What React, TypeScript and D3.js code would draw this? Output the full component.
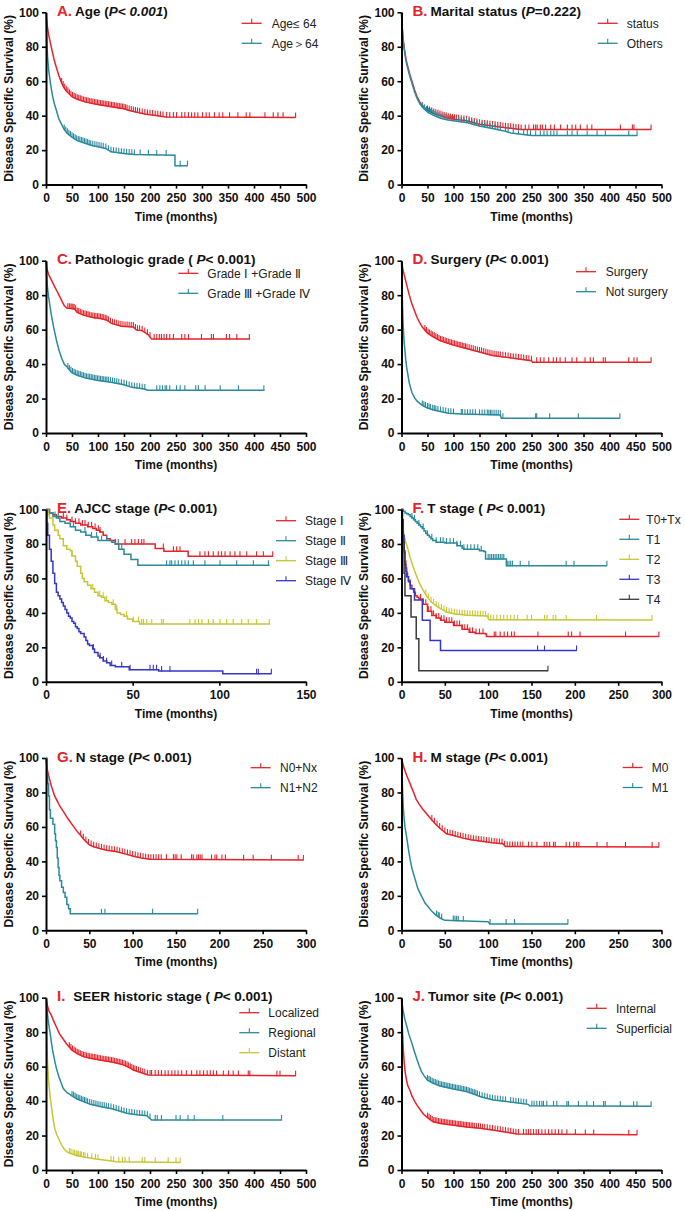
import React, { useRef, useEffect } from 'react';
import * as d3 from 'd3';

type Pt = [number, number];

// ---------- A. Age ----------
const ageLowPts: Pt[] = [[0,100],[1,96],[3,91],[5,87],[8,83],[10,80],[13,76],[16,72],[20,68],[25,63],[30,59],[35,56],[40,54],[50,51],[60,49.5],[75,48],[90,47],[100,46.5],[120,45.5],[140,44.5],[150,44],[160,43],[175,42],[190,41],[200,40.5],[215,40],[230,39.2],[480,39]];
const ageLowCens = [30,33,36,39,42,45,48,51,54,57,60,63,66,69,72,75,78,81,84,87,90,93,96,99,102,105,108,111,114,117,120,123,126,129,132,135,138,141,144,147,150,153,156,160,164,168,172,176,180,185,190,195,200,205,210,215,220,225,232,238,245,251,261,267,274,280,286,292,301,308,314,324,333,340,353,369,385,392,421,437,446,456,480];
const ageHighPts: Pt[] = [[0,100],[1,88],[2,80],[3,74],[5,67],[8,60],[10,56],[13,51],[16,47],[20,43],[25,38],[30,35],[35,32],[40,30],[50,27.5],[60,25.5],[75,24],[90,22.5],[100,22],[115,21],[125,19],[140,18.5],[150,18],[170,17.5],[248,17],[248,11],[272,11]];
const ageHighCens = [35,38,41,44,47,50,53,56,59,62,65,68,71,74,77,80,83,86,90,94,98,102,106,110,115,120,125,130,135,140,145,150,155,160,165,170,181,197,213,231,258,272];

// ---------- B. Marital status ----------
const statusPts: Pt[] = [[0,100],[1,93],[3,85],[5,80],[8,74],[10,71],[15,65],[20,60],[25,55],[30,51],[35,48],[40,46],[50,43],[60,41.5],[75,40],[90,38.5],[100,38],[125,37],[150,35],[175,34],[200,33],[230,32],[480,32]];
const statusCens = [50,54,58,62,66,70,74,78,82,86,90,94,98,102,106,110,115,120,125,130,135,140,145,150,155,160,165,170,175,180,185,190,195,200,205,210,215,220,225,230,238,245,254,258,261,267,271,277,287,294,306,319,328,335,344,357,366,421,444,447,480];
const othersPts: Pt[] = [[0,100],[1,92],[3,84],[5,79],[8,73],[10,70],[15,64],[20,59],[25,54],[30,50],[35,47],[40,45],[50,42],[60,40.5],[75,38.5],[90,37.5],[100,37],[125,36],[150,34],[175,32.5],[200,31],[210,30],[250,28.5],[453,28.5]];
const othersCens = [40,44,48,52,56,60,64,68,72,76,80,84,88,92,96,100,105,110,115,120,125,130,135,140,145,150,155,160,165,170,175,180,185,190,200,205,215,225,235,242,248,258,267,274,280,287,293,299,319,328,338,357,376,392,437,453];

// ---------- C. Pathologic grade ----------
const gradeLowPts: Pt[] = [[0,100],[2,95],[5,92],[10,89],[15,86],[20,83],[25,80],[30,77],[35,74],[40,72.5],[55,72],[60,70],[72,68.4],[90,67],[104,66.5],[117,65.5],[126,63.6],[145,62],[168,61.5],[174,59.7],[184,59.5],[197,57],[203,54.5],[392,54.5]];
const gradeLowCens = [42,45,48,50,52,54,57,60,63,66,69,72,75,78,81,84,87,90,93,96,99,102,105,108,111,114,117,120,124,128,132,136,140,144,148,152,156,160,164,168,172,176,180,185,190,195,200,208,213,218,222,227,232,238,245,261,267,274,299,318,322,347,353,367,391];
const gradeHighPts: Pt[] = [[0,100],[1,92],[3,84],[5,79],[8,73],[10,69],[15,61],[20,54],[25,48],[30,43.5],[35,40],[40,38.5],[45,36.5],[50,35],[60,33.5],[75,32],[100,30.5],[125,29.5],[150,28],[165,26.5],[190,25.5],[195,24.8],[420,24.8]];
const gradeHighCens = [42,45,48,51,54,57,60,63,66,69,72,75,78,81,84,87,90,93,96,99,102,105,108,111,114,117,120,124,128,132,136,140,145,150,155,160,165,170,175,180,185,190,213,219,224,229,232,238,251,258,267,288,293,306,335,370,419];

// ---------- D. Surgery ----------
const surgeryPts: Pt[] = [[0,100],[2,96],[5,92],[10,86],[15,80],[20,75],[25,71],[30,67],[35,64],[40,61.5],[50,58],[60,56],[75,53.5],[100,51],[125,49],[150,47],[175,45],[200,44],[225,43],[250,42],[252,41],[480,41]];
const surgeryCens = [45,48,51,54,57,60,63,66,69,72,75,78,81,84,87,90,93,96,99,102,105,108,111,114,117,120,123,126,130,134,138,142,146,150,154,158,162,166,170,174,178,182,186,190,195,200,205,210,215,220,225,230,235,240,245,250,260,267,274,283,292,298,305,315,328,337,353,363,369,388,392,437,447,453,480];
const notSurgeryPts: Pt[] = [[0,100],[1,85],[2,74],[3,64],[5,53],[8,43],[10,38],[15,29],[20,23.5],[25,20.5],[30,18.5],[40,16],[50,14.5],[60,13.5],[75,12.5],[90,11.5],[115,11],[190,10.5],[192,8.5],[420,8.5]];
const notSurgeryCens = [40,43,46,50,53,56,60,63,66,70,75,80,85,90,95,100,115,117,122,127,132,137,142,150,155,160,165,168,171,174,178,182,186,190,195,258,260,285,340,420];

// ---------- E. AJCC stage ----------
const stage1Pts: Pt[] = [[0,100],[2,98],[4,97],[6,96],[9,95],[12,94],[14,93],[17,92],[20,91],[24,90],[27,89],[29,88],[31,87],[33,85],[35,83],[37,82],[40,80],[63,77.3],[68,75.7],[82,72.8],[131,72.8]];
const stage1Cens = [10,12,15,17,19,21,22.5,24.4,26.3,28.3,30.2,31.2,40,45.6,49.4,51.3,53.3,55.2,56.5,67.7,73.5,75.4,77.3,88.8,91.7,93.7,96.5,99.4,101.3,103.3,106.2,109,111.9,115.8,121.5,125.4,130.8];
const stage2Pts: Pt[] = [[0,100],[2,98],[4,96],[6,95],[8,93],[11,92],[14,90],[17,88],[20,87],[23,85],[26,84],[30,82],[38,81],[40,80],[42,77],[45,74],[49,71],[53,67.6],[129,67.6]];
const stage2Cens = [5.2,7.1,15.8,22.5,26.3,29.2,32.1,35,41.7,43.7,69.6,71.5,72.5,74.4,76.3,78.3,80.2,82.1,85,91.7,100.4,110,119.6,128.3];
const stage3Pts: Pt[] = [[0,100],[1,97],[2,95],[4,91],[5,88],[7,85],[8,83],[10,79],[12,77],[14,76],[15,73],[17,70],[18,67],[20,63],[21,60],[22,58],[24,56],[26,54],[28,52],[30,50],[32,49],[34,47],[36,46],[38,45],[40,42],[41,40],[43,39],[45,38],[47,36.5],[50,35],[54,33.5],[129,33.5]];
const stage3Cens = [15,27,31,33,35,38.8,40.8,46.5,50.4,53.3,55.2,56.2,58.1,61,66.7,67.7,83,86,88,90,93.7,96.5,100.4,104.2,108,112.9,116.7,121.5,128.8];
const stage4Pts: Pt[] = [[0,100],[0.5,92],[1,85],[2,77],[3,70],[4,63],[5,57],[6,52],[7,50],[8,48],[9,46],[10,44],[11,42],[12,40],[13,38],[14,37],[15,35],[16,34],[17,32],[18,31],[19,29],[20,28],[22,26],[23,24],[24,22],[25,21],[27,19],[28,17],[30,15],[31,14],[33,12],[35,11],[37,9.5],[40,8.7],[48,7],[65,6.2],[102,4.7],[130,4.7]];
const stage4Cens = [27.3,31.2,33.1,35,37.9,43.7,48.5,60,61.9,63.8,66.7,71.5,121.5,122.5,130];

// ---------- F. T stage ----------
const t0Pts: Pt[] = [[0,100],[1,90],[2,82],[3,75],[4,70],[5,66],[6,63],[7,61],[8,59],[10,56],[12,54],[14,52],[16,50],[18,49],[20,48],[25,45],[30,41],[35,38.5],[40,37],[45,35.7],[50,34.5],[60,32.7],[70,30.5],[78,28.8],[85,28],[97,27.8],[98,26.3],[297,26.3]];
const t0Cens = [22,25,28,31,34,37,40,43,46,49,52,55,58,61,64,67,70,73,76,79,82,86,90,94,107,108.8,113.9,118.5,122.4,127,130.2,157.4,192.4,196.3,206,258.5,297];
const t1Pts: Pt[] = [[0,100],[2,99],[4,98],[6,97.5],[8,97],[10,96],[12,95],[14,94],[16,93],[18,92],[20,91],[22,90],[24,89],[26,87.5],[28,86],[30,85],[32,84],[34,83],[36,82],[40,81],[50,80.5],[64,79],[70,77.5],[72,77],[90,76],[95,75.6],[97,71.3],[120,71.3],[121,67.3],[237,67.3]];
const t1Cens = [12,15,20,25,30,35,40,45,48,52,56,60,64,68,72,76,80,84,88,92,100,102,104,106,108,110,112,114,116,118,122,124,126,128,137,147,190,199,237];
const t2Pts: Pt[] = [[0,100],[1,93],[2,88],[3,85],[5,81],[8,76],[10,72],[15,64.5],[20,58],[25,53],[30,49],[35,46],[40,44],[45,42.5],[52,40.5],[60,39.5],[76,38.6],[99,38.2],[101,36],[289,35.8]];
const t2Cens = [28,31,34,37,40,43,46,49,52,55,58,61,64,67,70,73,76,79,82,85,88,91,94,97,100,103,106,110,114,118,122,126,130,134,145,150,165,168,175,178,190,225,289];
const t3Pts: Pt[] = [[0,100],[1,92],[2,85],[3,76],[4,68],[5,64],[6,61],[8,58],[10,54],[15,47.5],[24,35.7],[33,24],[45,18.1],[202,18.1]];
const t3Cens = [157,165,202];
const t4Pts: Pt[] = [[0,100],[1,94],[2,81],[3,63],[4,50],[11,37.6],[17,25],[20,6.4],[169,6.4]];
const t4Cens = [169];

// ---------- G. N stage ----------
const n0Pts: Pt[] = [[0,100],[1,95],[2,92],[4,88],[6,84],[8,81],[10,78],[13,75],[16,72],[20,69],[25,65],[30,61.5],[35,58],[40,55],[45,52],[50,49.6],[55,48.5],[62,47.5],[70,46.5],[82,45.6],[90,44.5],[101,43],[110,42],[120,41.3],[297,40.8]];
const n0Cens = [40,43,46,49,52,55,58,61,64,67,70,73,76,79,82,85,88,91,94,97,100,103,106,109,112,115,118,121,124,127,130,133,139,147,149,151,156,168,170,174,176,178,180,191,195,197,203,207,228,239,260,291,297];
const n1Pts: Pt[] = [[0,100],[1,90],[2,85],[3,78],[4,70],[5,65],[8,61.5],[10,56],[11,52],[12,48],[13,42],[14,36.5],[15,32],[16,28.8],[18,25],[20,22],[22,19.2],[24,15],[26,12.5],[28,9.6],[175,9.6]];
const n1Cens = [64,68,123,175];

// ---------- H. M stage ----------
const m0Pts: Pt[] = [[0,100],[1,98],[3,94],[6,89.8],[10,85],[14,80],[17,76],[20,73.5],[25,70],[29,67.6],[35,64],[40.5,61],[46,58.5],[52,56],[60,55],[71,53.5],[80,52.5],[94.5,51.5],[105,50.8],[117,50.2],[120,48.6],[297,48.3]];
const m0Cens = [35,38,41,44,47,50,53,56,59,62,65,68,71,74,77,80,83,86,89,92,95,98,101,104,107,110,113,116,119,122,125,128,131,134,137,140,146.5,150.4,156.2,164.7,167.8,170.9,175.5,177.4,190,194,198.8,201.9,204.6,225.6,237.2,258.4,289.2,297];
const m1Pts: Pt[] = [[0,100],[0.5,92],[1,85],[2,72],[3,65],[4,60],[5,57],[6,54],[8,47],[10,41],[12,36],[15.5,30],[19,24],[23,20],[27,16],[31,13.5],[35,11],[40,8.7],[45,7],[50,5.8],[100,5],[102,3.7],[192,3.7]];
const m1Cens = [40.5,42.4,43.6,46.3,59.8,61.7,63.6,65.5,71.3,102.2,120.7,130.4,192];

// ---------- I. SEER historic stage ----------
const localizedPts: Pt[] = [[0,100],[1,98],[3,95],[6,92],[10,90],[14,87],[20,83],[26,79],[33,76],[40,73],[50,69.6],[60,67.5],[72,65.8],[85,64.8],[104,63.8],[129,62.5],[149,61],[160,59.5],[168,58],[181,56.7],[197,55.1],[480,54.7]];
const localizedCens = [45,48,51,54,57,60,63,66,69,72,75,78,81,84,87,90,93,96,99,102,105,108,111,114,117,120,123,126,129,132,135,138,141,144,147,150,153,156,159,162,165,168,171,174,178,182,186,190,195,200,203,210,216,222,229,235,242,248,254,261,270,280,290,296,303,310,316,322,328,341,351,360,370,389,392,444,450,480];
const regionalPts: Pt[] = [[0,100],[1,95],[3,90],[5,85],[7.7,80],[10,75],[13,69],[17,63],[20,59],[25,54],[33,47.4],[40,45],[50,43],[60,41.2],[72,39.7],[85,38.2],[104,36.8],[129,35.4],[155,32.9],[175,32],[194,31.5],[203,29],[453,29]];
const regionalCens = [50,53,56,59,62,65,68,71,74,77,80,84,88,92,96,100,104,108,112,116,120,125,130,135,140,145,150,155,160,165,170,175,180,185,190,195,200,210,214,222,250,258,273,285,340,453];
const distantPts: Pt[] = [[0,100],[0.5,90],[1,80],[2,70],[3,62],[5,52],[7.7,43],[11,35.8],[14,29],[17,24],[20,21],[23,19],[27,16.4],[31,14],[36.5,11.6],[42,10.2],[50,9.3],[60,8.3],[78,7.2],[100,6.3],[123,5.4],[135,4.8],[258,4.4]];
const distantCens = [45,48,52,55,58,61,63,66,68,72,75,80,88,95,100,125,130,140,147,152,160,185,190,210,235,250,258];

// ---------- J. Tumor site ----------
const internalPts: Pt[] = [[0,100],[1,88],[2,80],[3,72.5],[5,63],[7,57],[9.6,52.2],[12,49],[16,46.4],[20,43],[25.7,39.7],[30,37.5],[35,35.4],[42,32.5],[50,30.4],[61,28],[75,27],[100,26],[125,25],[151,24.2],[175,23.2],[196,22.2],[222,20.9],[453,20.5]];
const internalCens = [50,53,56,59,62,65,68,71,74,77,80,83,86,89,92,95,98,101,104,107,110,113,116,119,122,125,128,131,134,137,140,144,148,152,156,160,165,170,175,180,185,190,195,200,205,210,215,220,225,234.6,239.7,244.2,248.7,253.9,259,263.5,269.9,276.3,282.8,289.2,295.6,302,308.5,318,334.4,353.5,369.6,437,453];
const superficialPts: Pt[] = [[0,100],[1,97],[3,93],[6,88],[9.6,84],[14,79],[19,74.5],[24,69.5],[29,64.8],[34,60.5],[38.6,57],[44,54.5],[50,52.2],[60,50.5],[74,48.7],[100,47],[125,45.5],[140,44],[151,42.6],[165,41.5],[177,40.6],[202,39.7],[244,38.1],[246,37.3],[480,37]];
const superficialCens = [50,53,56,59,62,65,68,71,74,77,80,83,86,89,92,95,98,101,104,107,110,113,116,119,122,125,128,131,134,137,140,143,146,150,155,160,165,170,175,180,185,190,195,200,210,215,220,225,230,235,240,250.6,255,260.2,265.3,269.9,273,279.4,292.3,298.7,318,321,340.3,356.4,369.3,388.6,391.8,420.7,446.4,452.8,480];

// ---------- ticks ----------
const yTicks = [0, 20, 40, 60, 80, 100];
const xTicks500 = [0, 50, 100, 150, 200, 250, 300, 350, 400, 450, 500];
const xTicks300 = [0, 50, 100, 150, 200, 250, 300];
const xTicks150 = [0, 50, 100, 150];

const RED = '#e5232b';
const TEAL = '#2a8a9b';
const YELLOW = '#c8c634';
const BLUE = '#3535c6';
const BLACK = '#3a3a3a';

const FONT = '"Liberation Sans", Arial, Helvetica, sans-serif';

type Series = { name: string; color: string; pts: Pt[]; cens: number[]; step: boolean };
type Panel = {
  letter: string; title: [string, boolean][]; col: number; row: number;
  xTicks: number[]; legX: number; legDy: number; textOff: number; series: Series[];
};

const panels: Panel[] = [
  { letter: 'A.', title: [['Age (', false], ['P< 0.001', true], [')', false]], col: 0, row: 0, xTicks: xTicks500, legX: 241.7, legDy: 11, textOff: 30,
    series: [
      { name: 'Age≤ 64', color: RED, pts: ageLowPts, cens: ageLowCens, step: false },
      { name: 'Age＞64', color: TEAL, pts: ageHighPts, cens: ageHighCens, step: false },
    ] },
  { letter: 'B.', title: [['Marital status (', false], ['P', true], ['=0.222)', false]], col: 1, row: 0, xTicks: xTicks500, legX: 597.7, legDy: 11, textOff: 29,
    series: [
      { name: 'status', color: RED, pts: statusPts, cens: statusCens, step: false },
      { name: 'Others', color: TEAL, pts: othersPts, cens: othersCens, step: false },
    ] },
  { letter: 'C.', title: [['Pathologic grade ( ', false], ['P', true], ['< 0.001)', false]], col: 0, row: 1, xTicks: xTicks500, legX: 178.3, legDy: 12.6, textOff: 29,
    series: [
      { name: 'Grade Ⅰ +Grade Ⅱ', color: RED, pts: gradeLowPts, cens: gradeLowCens, step: false },
      { name: 'Grade Ⅲ +Grade Ⅳ', color: TEAL, pts: gradeHighPts, cens: gradeHighCens, step: false },
    ] },
  { letter: 'D.', title: [['Surgery (', false], ['P', true], ['< 0.001)', false]], col: 1, row: 1, xTicks: xTicks500, legX: 576, legDy: 11, textOff: 29.7,
    series: [
      { name: 'Surgery', color: RED, pts: surgeryPts, cens: surgeryCens, step: false },
      { name: 'Not surgery', color: TEAL, pts: notSurgeryPts, cens: notSurgeryCens, step: false },
    ] },
  { letter: 'E.', title: [['AJCC stage (', false], ['P', true], ['< 0.001)', false]], col: 0, row: 2, xTicks: xTicks150, legX: 276, legDy: 11.2, textOff: 29,
    series: [
      { name: 'Stage Ⅰ', color: RED, pts: stage1Pts, cens: stage1Cens, step: true },
      { name: 'Stage Ⅱ', color: TEAL, pts: stage2Pts, cens: stage2Cens, step: true },
      { name: 'Stage Ⅲ', color: YELLOW, pts: stage3Pts, cens: stage3Cens, step: true },
      { name: 'Stage Ⅳ', color: BLUE, pts: stage4Pts, cens: stage4Cens, step: true },
    ] },
  { letter: 'F.', title: [['T stage ( ', false], ['P', true], ['< 0.001)', false]], col: 1, row: 2, xTicks: xTicks300, legX: 619.3, legDy: 9.8, textOff: 27,
    series: [
      { name: 'T0+Tx', color: RED, pts: t0Pts, cens: t0Cens, step: true },
      { name: 'T1', color: TEAL, pts: t1Pts, cens: t1Cens, step: true },
      { name: 'T2', color: YELLOW, pts: t2Pts, cens: t2Cens, step: false },
      { name: 'T3', color: BLUE, pts: t3Pts, cens: t3Cens, step: true },
      { name: 'T4', color: BLACK, pts: t4Pts, cens: t4Cens, step: true },
    ] },
  { letter: 'G.', title: [['N stage (', false], ['P', true], ['< 0.001)', false]], col: 0, row: 3, xTicks: xTicks300, legX: 250.7, legDy: 9.7, textOff: 29.3,
    series: [
      { name: 'N0+Nx', color: RED, pts: n0Pts, cens: n0Cens, step: false },
      { name: 'N1+N2', color: TEAL, pts: n1Pts, cens: n1Cens, step: true },
    ] },
  { letter: 'H.', title: [['M stage (', false], ['P', true], ['< 0.001)', false]], col: 1, row: 3, xTicks: xTicks300, legX: 622.7, legDy: 9.5, textOff: 29,
    series: [
      { name: 'M0', color: RED, pts: m0Pts, cens: m0Cens, step: false },
      { name: 'M1', color: TEAL, pts: m1Pts, cens: m1Cens, step: false },
    ] },
  { letter: 'I.', title: [['SEER historic stage ( ', false], ['P', true], ['< 0.001)', false]], col: 0, row: 4, xTicks: xTicks500, legX: 239.3, legDy: 15, textOff: 29,
    series: [
      { name: 'Localized', color: RED, pts: localizedPts, cens: localizedCens, step: false },
      { name: 'Regional', color: TEAL, pts: regionalPts, cens: regionalCens, step: false },
      { name: 'Distant', color: YELLOW, pts: distantPts, cens: distantCens, step: false },
    ] },
  { letter: 'J.', title: [['Tumor site (', false], ['P', true], ['< 0.001)', false]], col: 1, row: 4, xTicks: xTicks500, legX: 586.7, legDy: 10.6, textOff: 29.3,
    series: [
      { name: 'Internal', color: RED, pts: internalPts, cens: internalCens, step: false },
      { name: 'Superficial', color: TEAL, pts: superficialPts, cens: superficialCens, step: false },
    ] },
];

// layout
const colX = [46, 401.5];
const rowTop = [12.3, 260.7, 509.5, 758, 997.7];
const plotW = 260;
const plotH = 172.3;

// survival value at time t (for placing censor marks)
function survAt(pts: Pt[], t: number, step: boolean) {
  let i = 0;
  while (i < pts.length - 1 && pts[i + 1][0] <= t) i++;
  if (step || i === pts.length - 1) return pts[i][1];
  const [t0, s0] = pts[i];
  const [t1, s1] = pts[i + 1];
  if (t1 === t0) return s1;
  return s0 + (s1 - s0) * (t - t0) / (t1 - t0);
}

const App = () => {
  const ref = useRef<SVGSVGElement>(null);

  useEffect(() => {
    const svg = d3.select(ref.current);
    svg.selectAll('*').remove();

    panels.forEach(p => {
      const x0 = colX[p.col];
      const top = rowTop[p.row];
      const xMax = p.xTicks[p.xTicks.length - 1];
      const x = d3.scaleLinear().domain([0, xMax]).range([x0, x0 + plotW]);
      const y = d3.scaleLinear().domain([0, 100]).range([top + plotH, top]);
      const g = svg.append('g');

      // curves + censor marks
      p.series.forEach(s => {
        const line = d3.line<Pt>()
          .x(d => x(d[0]))
          .y(d => y(d[1]))
          .curve(s.step ? d3.curveStepAfter : d3.curveLinear);
        g.append('path')
          .attr('d', line(s.pts))
          .attr('fill', 'none')
          .attr('stroke', s.color)
          .attr('stroke-width', 1.5);
        g.append('g').selectAll('line')
          .data(s.cens)
          .join('line')
          .attr('x1', d => x(d)).attr('x2', d => x(d))
          .attr('y1', d => y(survAt(s.pts, d, s.step)) + 0.5)
          .attr('y2', d => y(survAt(s.pts, d, s.step)) - 5)
          .attr('stroke', s.color)
          .attr('stroke-width', 1.1);
      });

      // y axis
      const ya = g.append('g')
        .attr('transform', `translate(${x0},0)`)
        .call(d3.axisLeft(y).tickValues(yTicks).tickSize(4).tickSizeOuter(0).tickPadding(3));
      ya.select('.domain').attr('stroke', '#000').attr('stroke-width', 2);
      ya.selectAll('.tick line').attr('stroke', '#000').attr('stroke-width', 1.6);
      ya.selectAll('.tick text')
        .style('font-family', FONT).style('font-size', '12px').style('font-weight', 'bold').attr('fill', '#111');

      // x axis
      const xa = g.append('g')
        .attr('transform', `translate(0,${top + plotH})`)
        .call(d3.axisBottom(x).tickValues(p.xTicks).tickSize(4).tickSizeOuter(0).tickPadding(5));
      xa.select('.domain').attr('stroke', '#000').attr('stroke-width', 2);
      xa.selectAll('.tick line').attr('stroke', '#000').attr('stroke-width', 1.6);
      xa.selectAll('.tick text')
        .style('font-family', FONT).style('font-size', '12px').style('font-weight', 'bold').attr('fill', '#111');

      // axis titles
      g.append('text')
        .attr('transform', `translate(${x0 - 37.5},${top + plotH / 2}) rotate(-90)`)
        .attr('text-anchor', 'middle')
        .attr('dy', '0.35em')
        .style('font-family', FONT).style('font-size', '12px').style('font-weight', 'bold')
        .attr('fill', '#111')
        .text('Disease Specific Survival (%)');
      g.append('text')
        .attr('x', x0 + plotW / 2)
        .attr('y', top + plotH + 36)
        .attr('text-anchor', 'middle')
        .style('font-family', FONT).style('font-size', '12px').style('font-weight', 'bold')
        .attr('fill', '#111')
        .text('Time (months)');

      // panel title
      const t = g.append('text')
        .attr('x', x0 + 11)
        .attr('y', top + 3.5)
        .style('font-family', FONT).style('font-weight', 'bold');
      t.append('tspan').attr('fill', RED).style('font-size', '15px').text(p.letter);
      p.title.forEach(([txt, it], i) => {
        t.append('tspan')
          .attr('dx', i === 0 ? (p.letter === 'I.' ? 8 : 3) : 0)
          .attr('fill', '#111')
          .style('font-size', '13.5px')
          .style('font-style', it ? 'italic' : 'normal')
          .style('white-space', 'pre')
          .text(txt);
      });

      // legend
      p.series.forEach((s, i) => {
        const ly = top + p.legDy + i * 20;
        g.append('line')
          .attr('x1', p.legX).attr('x2', p.legX + 20)
          .attr('y1', ly).attr('y2', ly)
          .attr('stroke', s.color).attr('stroke-width', 1.3);
        g.append('line')
          .attr('x1', p.legX + 10).attr('x2', p.legX + 10)
          .attr('y1', ly).attr('y2', ly - 4.5)
          .attr('stroke', s.color).attr('stroke-width', 1.1);
        g.append('text')
          .attr('x', p.legX + p.textOff)
          .attr('y', ly)
          .attr('dy', '0.35em')
          .style('font-family', FONT).style('font-size', '12px')
          .style('white-space', 'pre')
          .attr('fill', '#222')
          .text(s.name);
      });
    });
  }, []);

  return (
    <svg
      ref={ref}
      width={685}
      height={1211}
      style={{ position: 'absolute', left: 0, top: 0, background: '#fff' }}
    />
  );
};

export default App;
